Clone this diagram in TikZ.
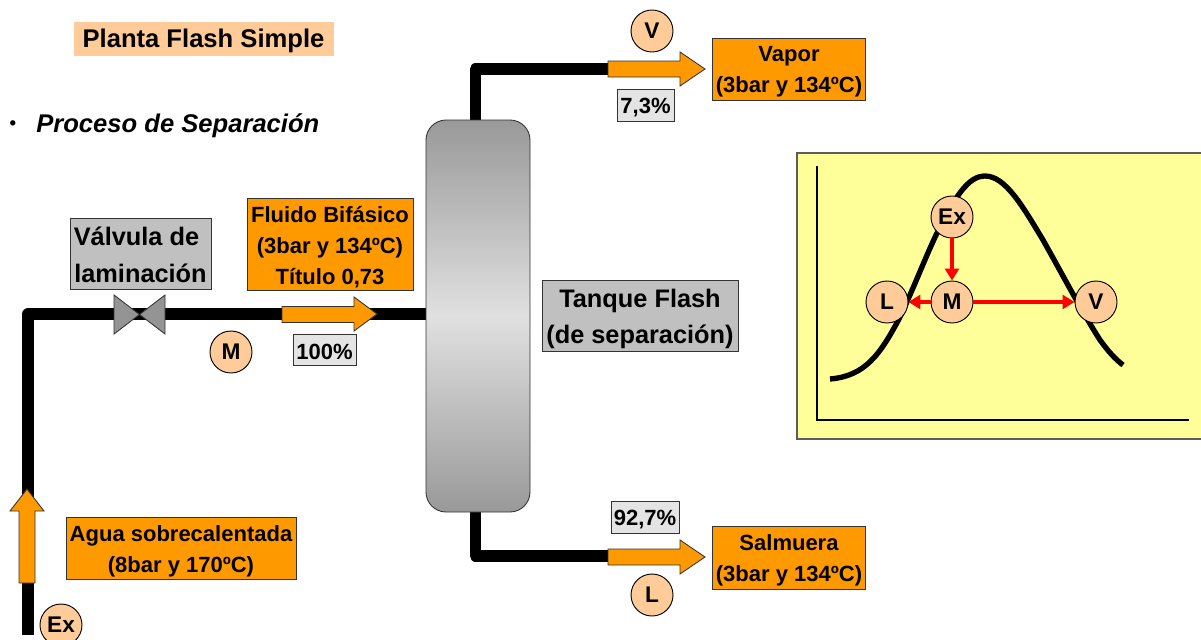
\documentclass[tikz,border=0pt]{standalone}
\usepackage{fontspec}
\setmainfont{Liberation Sans}
\usetikzlibrary{arrows.meta}
\definecolor{orangeB}{HTML}{FF9900}
\definecolor{peach}{HTML}{FFCC99}
\definecolor{labelgray}{HTML}{C0C0C0}
\definecolor{pctgray}{HTML}{E4E4E4}
\definecolor{chartbg}{HTML}{FFFF99}
\definecolor{edge}{HTML}{333333}
\tikzset{
  wh/.style 2 args={minimum width=#1*0.75pt,minimum height=#2*0.75pt},
  tr/.style={execute at begin node={\rule{0pt}{#1pt}}},
  boxbase/.style={draw=edge,line width=0.65pt,inner sep=0pt,align=center,font=\bfseries\fontsize{16.5}{23}\selectfont},
  orangebox/.style={boxbase,fill=orangeB},
  graybox/.style={boxbase,fill=labelgray},
  pctbox/.style={boxbase,fill=pctgray,tr=15},
  smalltext/.style={align=center,inner sep=0pt,font=\bfseries\fontsize{16.5}{23}\selectfont},
  bigtext/.style={align=center,inner sep=0pt,font=\bfseries\fontsize{19}{27.5}\selectfont},
  state/.style={circle,draw=black,line width=0.7pt,fill=peach,minimum size=31.5pt,inner sep=0pt,font=\bfseries\fontsize{17}{19}\selectfont},
  pipe/.style={line width=8.4pt,draw=black,line join=round},
  blockarrow/.style={draw=edge,line width=0.65pt,fill=orangeB,line join=miter},
  redarrow/.style={draw=red,line width=2.5pt,-{Triangle[length=9pt,width=10.5pt]}},
}
\begin{document}
\begin{tikzpicture}[x=0.75pt,y=-0.75pt]
\useasboundingbox (0,0) rectangle (1201,639);
\clip (0,0) rectangle (1201,639);
% title and bullet
\node[fill=peach,inner sep=0pt,wh={260}{34},tr=17,font=\bfseries\fontsize{19.2}{22}\selectfont] (title) at (203.5,39) {Planta Flash Simple};
\node[inner sep=0pt,font=\bfseries\fontsize{14}{16}\selectfont] (bullet) at (13,125) {•};
\node[anchor=west,inner sep=0pt,font=\bfseries\itshape\fontsize{19.2}{22}\selectfont] (proc) at (36,125.5) {Proceso de Separación};
% pipe coordinates
\coordinate (p1) at (28,635);
\coordinate (p2) at (28,314);
\coordinate (p3) at (426,314);
\coordinate (t1) at (475.5,122);
\coordinate (t2) at (475.5,69);
\coordinate (t3) at (610,69);
\coordinate (b1) at (475.5,510);
\coordinate (b2) at (475.5,556);
\coordinate (b3) at (610,556);
\draw[pipe] (p1) -- (p2) -- (p3);
\draw[pipe] (t1) -- (t2) -- (t3);
\draw[pipe] (b1) -- (b2) -- (b3);
% tank
\path[draw=edge,line width=0.65pt,top color=black!40,bottom color=black!40,middle color=black!12,rounded corners=15pt]
  (426,120) rectangle (530,512);
\node[inner sep=0pt,wh={104}{392}] (tank) at (478,316) {};
% valve
\draw[draw=edge,line width=0.65pt,fill=black!42,line join=miter]
  (114,295) -- (139.5,314.5) -- (165,295) -- (165,334) -- (139.5,314.5) -- (114,334) -- cycle;
% block arrows
\draw[blockarrow] (608,61) -- (680,61) -- (680,52) -- (705,69) -- (680,86) -- (680,77) -- (608,77) -- cycle;
\draw[blockarrow] (608,549) -- (680,549) -- (680,540) -- (705,557) -- (680,574) -- (680,565) -- (608,565) -- cycle;
\draw[blockarrow] (282,306.5) -- (354,306.5) -- (354,297) -- (377,314) -- (354,331) -- (354,322.5) -- (282,322.5) -- cycle;
\draw[blockarrow] (19,583) -- (19,511) -- (10,511) -- (27,489) -- (44,511) -- (35,511) -- (35,583) -- cycle;
% labels
\node[graybox,wh={141}{71},label={[bigtext,yshift=-0.75pt]center:{Válvula de\hspace*{6pt}\\laminación}}] (valv) at (140.5,253.5) {};
\node[orangebox,wh={166}{92},label={[smalltext,yshift=-2.25pt]center:{Fluido Bifásico\\(3bar y 134ºC)\\Título 0,73}}] (fluido) at (330,244) {};
\node[pctbox,wh={63}{31}] (p100) at (324.5,349.5) {100\%};
\node[orangebox,wh={153}{62},label={[smalltext,yshift=-2.25pt]center:{Vapor\\(3bar y 134ºC)}}] (vapor) at (789,69) {};
\node[pctbox,wh={57}{32}] (p73) at (645.5,105) {7,3\%};
\node[orangebox,wh={153}{63},label={[smalltext,yshift=-2.25pt]center:{Salmuera\\(3bar y 134ºC)}}] (salm) at (789,557.5) {};
\node[pctbox,wh={68}{32}] (p927) at (645,517) {92,7\%};
\node[graybox,wh={196}{71},label={[bigtext,yshift=-2.6pt]center:{Tanque Flash\\(de separación)}}] (tanque) at (640,315.5) {};
\node[orangebox,wh={230}{62},label={[smalltext,yshift=-2.25pt]center:{Agua sobrecalentada\\(8bar y 170ºC)}}] (agua) at (181,548) {};
\node[state] (sV) at (652,31) {V};
\node[state] (sM) at (231,352) {M};
\node[state] (sL) at (652,595) {L};
\node[state] (sEx) at (61,625) {Ex};
% chart
\fill[chartbg] (797,153) rectangle (1206,439);
\draw[draw=edge!80,line width=0.9pt] (1206,153) -- (797,153) -- (797,439) -- (1206,439);
\coordinate (ax1) at (817,166);
\coordinate (ax2) at (817,420);
\coordinate (ax3) at (1189,420);
\draw[black,line width=1.6pt,line join=miter] (ax1) -- (ax2) -- (ax3);
\draw[black,line width=4pt] (830,379) .. controls (865,376) and (880,355) .. (900,317)
  .. controls (915,285) and (925,258) .. (937,233)
  .. controls (955,197) and (968,176) .. (985,176)
  .. controls (1005,176) and (1022,205) .. (1043,240)
  .. controls (1060,270) and (1082,312) .. (1100,340)
  .. controls (1108,351) and (1115,359) .. (1123,365);
\node[state] (cL) at (887,302) {L};
\node[state] (cM) at (952,302) {M};
\node[state] (cV) at (1096,302) {V};
\node[state] (cEx) at (952,217) {Ex};
\draw[redarrow] (cEx) -- (cM);
\draw[redarrow] (cM) -- (cL);
\draw[redarrow] (cM) -- (cV);
\end{tikzpicture}
\end{document}
